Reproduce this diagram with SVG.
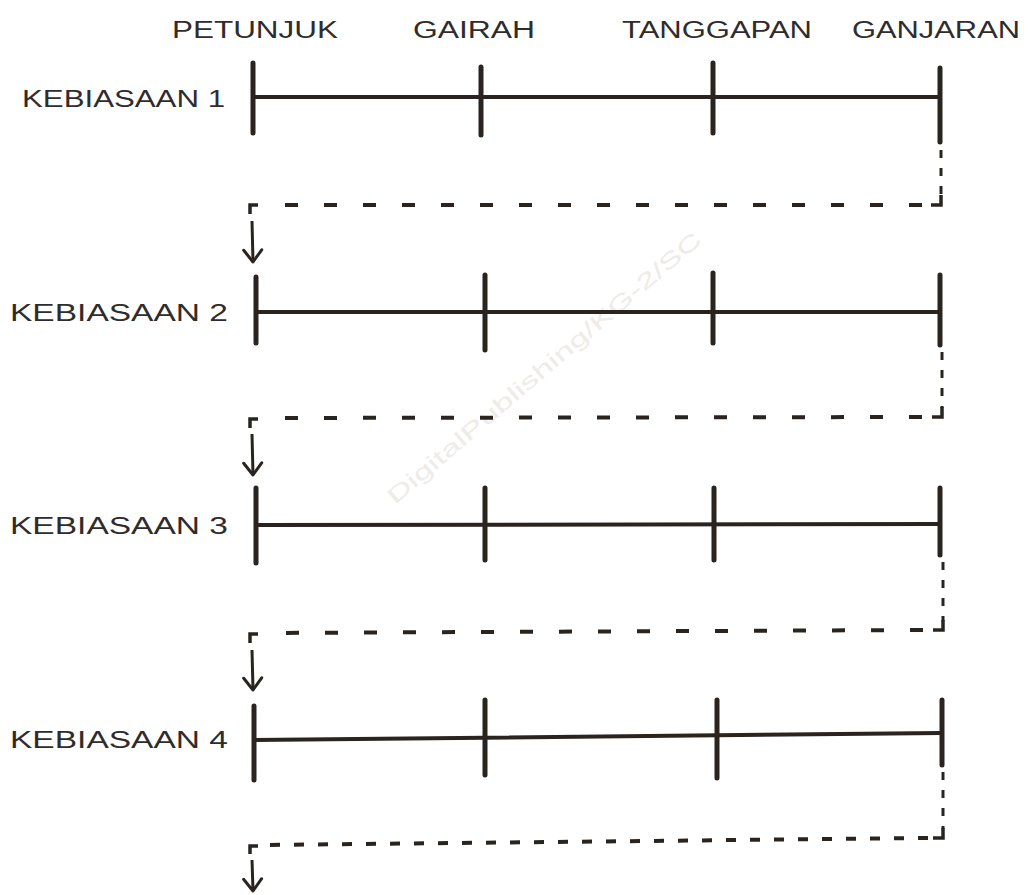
<svg xmlns="http://www.w3.org/2000/svg" width="1033" height="895" viewBox="0 0 1033 895">
<style>
.bg{fill:#ffffff}
.lbl{font-family:"Liberation Sans",Arial,sans-serif;font-size:23px;fill:#2f2c2b}
.axis{stroke:#2a2420;stroke-width:4;stroke-linecap:round;fill:none}
.tick{stroke:#2a2420;stroke-width:5;stroke-linecap:round;fill:none}
.dash{stroke:#2a2420;stroke-width:4;fill:none;stroke-dasharray:13 26}
.dash2{stroke:#2a2420;stroke-width:4;fill:none;stroke-dasharray:10 14}
.dv{stroke:#2a2420;stroke-width:3;fill:none;stroke-dasharray:8 10}
.corner{stroke:#2a2420;stroke-width:3.5;fill:none}
.arrow{stroke:#2a2420;stroke-width:3;fill:none;marker-end:url(#arr)}
.wm{font-family:"Liberation Sans",Arial,sans-serif;font-size:22px;fill:#eeebe8}
</style>
<defs>
<marker id="arr" markerUnits="userSpaceOnUse" markerWidth="20" markerHeight="24" refX="13" refY="10" orient="auto" overflow="visible">
<path d="M1,1 L13,10 L1,19" fill="none" stroke="#2a2420" stroke-width="3" stroke-linecap="round" stroke-linejoin="round"/>
</marker>
</defs>
<rect class="bg" x="0" y="0" width="1033" height="895"/>
<text class="wm" x="0" y="0" transform="translate(395,505) rotate(-40.5)" textLength="405" lengthAdjust="spacingAndGlyphs">DigitalPublishing/KG-2/SC</text>
<g id="headers">
<text class="lbl" x="172" y="38" textLength="166" lengthAdjust="spacingAndGlyphs">PETUNJUK</text>
<text class="lbl" x="413" y="38" textLength="122" lengthAdjust="spacingAndGlyphs">GAIRAH</text>
<text class="lbl" x="622" y="38" textLength="190" lengthAdjust="spacingAndGlyphs">TANGGAPAN</text>
<text class="lbl" x="852" y="38" textLength="168" lengthAdjust="spacingAndGlyphs">GANJARAN</text>
</g>
<g id="habit1">
<text class="lbl" x="22" y="107" textLength="203" lengthAdjust="spacingAndGlyphs">KEBIASAAN 1</text>
<path class="axis" d="M253,97 L940,97"/>
<path class="tick" d="M253,63 L253,133 M481,67 L481,135 M713,63 L713,133 M940,68 L940,142"/>
</g>
<g id="habit2">
<text class="lbl" x="10" y="321" textLength="218" lengthAdjust="spacingAndGlyphs">KEBIASAAN 2</text>
<path class="axis" d="M256,312 L940,312"/>
<path class="tick" d="M256,277 L256,343 M485,275 L485,350 M713,273 L713,343 M940,275 L940,345"/>
</g>
<g id="habit3">
<text class="lbl" x="10" y="534" textLength="218" lengthAdjust="spacingAndGlyphs">KEBIASAAN 3</text>
<path class="axis" d="M256,525 L940,524"/>
<path class="tick" d="M256,488 L256,563 M485,488 L485,560 M714,488 L714,560 M940,488 L940,555"/>
</g>
<g id="habit4">
<text class="lbl" x="10" y="748" textLength="218" lengthAdjust="spacingAndGlyphs">KEBIASAAN 4</text>
<path class="axis" d="M254,740 L942,733"/>
<path class="tick" d="M254,706 L254,780 M485,700 L485,775 M717,700 L717,778 M942,700 L942,765"/>
</g>
<g id="connectors">
<path class="dv" d="M941,150 L941,196"/>
<path class="dash" d="M922,205 L262,205"/>
<path class="corner" d="M941,195 L941,205 L931,205"/>
<path class="corner" d="M258,205 L250,205 L250,214"/>
<path class="arrow" d="M252,221 L253,262"/>

<path class="dv" d="M942,352 L942,408"/>
<path class="dash" d="M922,417 L262,418"/>
<path class="corner" d="M942,407 L942,417 L932,417"/>
<path class="corner" d="M258,419 L250,419 L250,428"/>
<path class="arrow" d="M252,434 L253,475"/>

<path class="dv" d="M943,562 L943,621"/>
<path class="dash" d="M923,630 L262,633"/>
<path class="corner" d="M943,620 L943,630 L933,630"/>
<path class="corner" d="M258,634 L250,634 L250,643"/>
<path class="arrow" d="M252,650 L253,690"/>

<path class="dv" d="M943,772 L943,829"/>
<path class="dash2" d="M928,838 L262,845"/>
<path class="corner" d="M943,828 L943,838 L933,838"/>
<path class="corner" d="M258,846 L250,846 L250,854"/>
<path class="arrow" d="M252,860 L253,891"/>
</g>
</svg>
